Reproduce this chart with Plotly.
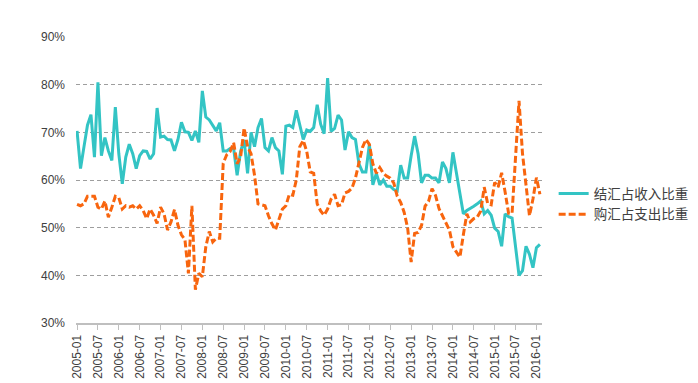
import pandas as pd
import plotly.graph_objects as go

months = [d.strftime("%Y-%m") for d in pd.date_range("2005-01-01", "2016-02-01", freq="MS")]

settle_share = [
    70.3, 62.4, 67.0, 71.5, 73.7, 64.8, 80.5, 65.1, 68.9, 66.1, 64.1, 75.3,
    65.5, 59.2, 64.8, 67.5, 65.5, 62.4, 65.1, 66.1, 66.0, 64.4, 65.5, 75.1,
    69.0, 69.2, 68.5, 68.4, 66.1, 68.5, 72.1, 70.1, 70.0, 68.3, 70.3, 67.9,
    78.7, 73.2, 72.6, 71.3, 70.3, 72.0, 66.1, 66.1, 66.6, 66.6, 61.0, 66.0,
    68.4, 61.4, 70.0, 67.0, 71.0, 72.9, 66.8, 66.1, 68.9, 66.8, 66.1, 61.2,
    71.3, 71.5, 71.0, 74.6, 71.7, 68.5, 70.5, 70.2, 71.0, 75.8, 71.7, 69.7,
    81.4, 70.2, 70.8, 73.6, 72.6, 66.3, 70.1, 68.9, 68.5, 63.4, 61.7, 61.7,
    67.5, 59.0, 61.4, 59.0, 60.0, 58.7, 58.7, 58.0, 57.7, 63.1, 60.4, 60.4,
    65.1, 69.2, 65.5, 59.4, 61.0, 61.0, 60.4, 60.4, 59.4, 63.8, 62.4, 59.4,
    65.8, 61.4, 57.3, 52.9, 53.6, 54.0, 54.5, 55.0, 55.6, 52.9, 53.6, 52.6,
    49.9, 49.2, 46.1, 52.9, 52.3, 52.0, 46.5, 40.0, 41.0, 46.1, 44.4, 41.6,
    45.8, 46.5,
]

purchase_share = [
    54.9, 54.6, 55.0, 56.6, 56.6, 56.6, 54.3, 53.9, 55.6, 52.2, 54.3, 56.6,
    56.3, 53.9, 54.6, 54.3, 54.6, 53.9, 54.6, 53.6, 51.9, 53.9, 52.6, 50.9,
    54.3, 52.9, 49.5, 51.2, 53.8, 50.5, 48.5, 47.5, 40.4, 54.6, 37.0, 40.4,
    39.7, 46.0, 49.2, 47.0, 47.8, 47.8, 63.5, 65.3, 66.0, 67.8, 63.4, 64.8,
    70.9, 67.0, 65.5, 61.0, 55.0, 54.8, 54.6, 52.5, 50.8, 49.5, 51.5, 53.9,
    54.6, 57.0, 56.8, 60.0, 67.0, 68.3, 66.0, 61.7, 61.4, 55.0, 53.5, 52.6,
    53.9, 56.0, 57.0, 54.6, 54.8, 57.3, 57.6, 58.3, 60.4, 63.4, 66.8, 68.5,
    67.5, 63.4, 61.4, 62.6, 61.4, 60.8, 60.4, 59.4, 56.6, 55.3, 53.2, 49.9,
    42.8, 48.8, 49.0, 50.5, 54.5, 55.5, 58.2, 56.8, 54.0, 52.5, 51.0, 49.5,
    46.0, 44.8, 43.8, 48.5, 52.9, 51.2, 51.9, 52.2, 53.5, 58.5, 55.0, 54.8,
    59.5, 58.5, 61.5, 57.5, 53.0, 53.0, 63.7, 76.6, 65.5, 58.5, 52.5, 56.0,
    60.5, 57.0,
]

tick_labels = [
    "2005-01", "2005-07", "2006-01", "2006-07", "2007-01", "2007-07", "2008-01",
    "2008-07", "2009-01", "2009-07", "2010-01", "2010-07", "2011-01", "2011-07",
    "2012-01", "2012-07", "2013-01", "2013-07", "2014-01", "2014-07", "2015-01",
    "2015-07", "2016-01",
]
y_ticks = [30, 40, 50, 60, 70, 80, 90]

fig = go.Figure()
fig.add_trace(go.Scatter(
    x=months, y=settle_share, mode="lines", name="结汇占收入比重",
    line=dict(color="#33C4C4", width=3),
))
fig.add_trace(go.Scatter(
    x=months, y=purchase_share, mode="lines", name="购汇占支出比重",
    line=dict(color="#F8650E", width=3, dash="7px,3px"),
))

fig.update_layout(
    width=698, height=383,
    margin=dict(l=68, r=163, t=29, b=59),
    paper_bgcolor="white", plot_bgcolor="white",
    font=dict(family="Liberation Sans, Noto Sans CJK SC", color="#404040"),
    showlegend=True,
    legend=dict(
        x=1.025, xanchor="left", y=0.415, yanchor="middle",
        font=dict(family="Noto Sans CJK SC", size=13.5, color="#404040"),
        bgcolor="rgba(0,0,0,0)", tracegroupgap=0,
    ),
)
fig.update_xaxes(
    type="category", range=[-0.3, 133.6],
    tickmode="array", tickvals=tick_labels, ticktext=tick_labels,
    tickangle=-90, tickfont=dict(size=12, color="#404040"),
    showgrid=False, showline=True, linecolor="#BFBFBF", linewidth=2,
    ticks="outside", ticklen=5, tickcolor="#BFBFBF", tickwidth=1,
    zeroline=False,
)
fig.update_yaxes(
    range=[30, 90], tickmode="array", tickvals=y_ticks,
    ticktext=[f"{v}%" for v in y_ticks],
    tickfont=dict(size=12, color="#404040"),
    showgrid=True, gridcolor="#9E9E9E", gridwidth=1, griddash="4px,3px",
    showline=False, zeroline=False, ticks="", ticklabelstandoff=10,
)

fig.write_html("out.html")
